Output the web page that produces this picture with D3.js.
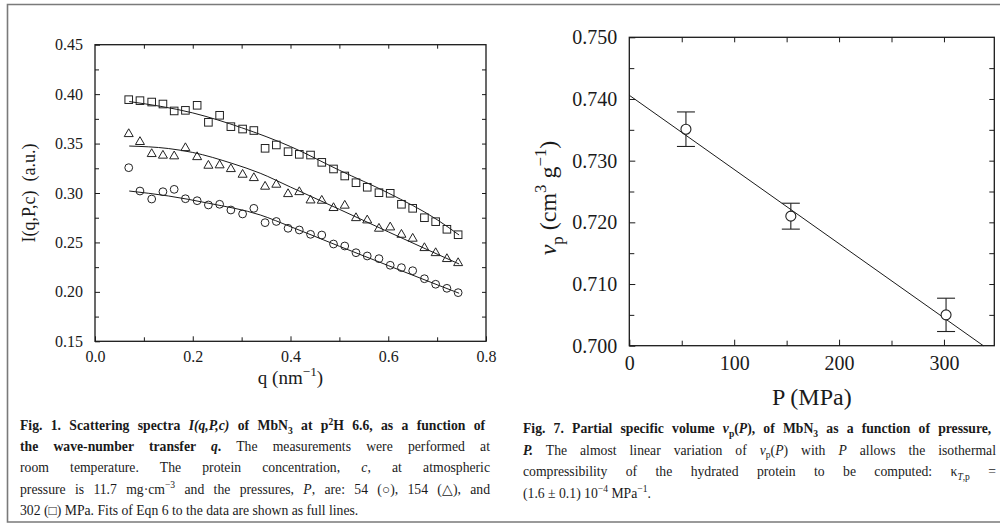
<!DOCTYPE html>
<html><head><meta charset="utf-8">
<script src="https://cdn.jsdelivr.net/npm/d3@7"></script>
<style>
body{margin:0;background:#fff}
svg{display:block}
text{font-family:"Liberation Serif","Times New Roman",serif;fill:#1a1a1a}
</style>
</head><body>
<svg id="c" width="1000" height="527"></svg>
<script>
// ---------- Fig. 1 data ----------
const qValues = [0.069,0.092,0.116,0.139,0.162,0.185,0.209,0.232,0.255,0.278,0.302,0.325,0.348,0.371,0.395,
                 0.418,0.441,0.464,0.488,0.511,0.534,0.557,0.581,0.604,0.627,0.650,0.674,0.697,0.720,0.743];
const I302 = [0.3944,0.3934,0.3920,0.3900,0.3830,0.3836,0.3887,0.3715,0.3786,0.3671,0.3647,0.3632,0.3452,0.3486,0.3418,
              0.3391,0.3384,0.3310,0.3243,0.3172,0.3104,0.3058,0.3003,0.2997,0.2886,0.2845,0.2750,0.2710,0.2633,0.2578];
const I154 = [0.3610,0.3530,0.3408,0.3392,0.3385,0.3468,0.3377,0.3290,0.3294,0.3256,0.3199,0.3165,0.3078,0.3098,0.3003,
              0.3023,0.2939,0.2936,0.2862,0.2886,0.2760,0.2737,0.2653,0.2666,0.2592,0.2552,0.2457,0.2406,0.2346,0.2305];
const I54  = [0.3256,0.3020,0.2939,0.3013,0.3037,0.2942,0.2922,0.2879,0.2886,0.2828,0.2788,0.2845,0.2700,0.2712,0.2643,
              0.2626,0.2582,0.2575,0.2484,0.2464,0.2396,0.2363,0.2336,0.2269,0.2245,0.2214,0.2133,0.2077,0.2036,0.1992];
const fit302Q = [0.07,0.20,0.30,0.40,0.50,0.60,0.70,0.745];
const fit302I = [0.3925,0.381,0.366,0.347,0.323,0.300,0.273,0.2575];
const fit154Q = [0.07,0.15,0.20,0.28,0.338,0.40,0.50,0.60,0.70,0.745];
const fit154I = [0.3475,0.345,0.341,0.330,0.320,0.306,0.2835,0.2607,0.2382,0.2282];
const fit54Q  = [0.07,0.15,0.233,0.338,0.40,0.50,0.60,0.70,0.745];
const fit54I  = [0.302,0.297,0.2896,0.2778,0.266,0.2461,0.2266,0.2072,0.1986];
const qMajorTicks = [0,0.2,0.4,0.6,0.8];
const qMinorTicks = [0.1,0.3,0.5,0.7];
const iMajorTicks = [0.15,0.20,0.25,0.30,0.35,0.40,0.45];
const iMinorTicks = [0.175,0.225,0.275,0.325,0.375,0.425];

// ---------- Fig. 7 data ----------
const pressures = [54,154,302];
const volumes   = [0.7351,0.7210,0.7050];
const volErrors = [0.0028,0.0021,0.0027];
const fitP = [0,337.5];
const fitV = [0.7406,0.700];
const pMajorTicks = [0,100,200,300];
const pMinorTicks = [50,150,250];
const vMajorTicks = [0.700,0.710,0.720,0.730,0.740,0.750];
const vMinorTicks = [0.705,0.715,0.725,0.735,0.745];

const svg = d3.select('#c');
const INK = '#1a1a1a';
const SERIF = '"Liberation Serif","Times New Roman",serif';

// outer frame
svg.append('path').attr('d','M1003,4.5 H7.5 V522 H1003')
  .attr('fill','none').attr('stroke','#7a7a7a').attr('stroke-width',1.6);

function styleAxis(g, size){
  g.select('.domain').remove();
  g.selectAll('line').attr('stroke',INK).attr('stroke-width',1);
  g.selectAll('text').attr('font-family',SERIF).attr('font-size',size).attr('fill',INK);
}

// ========== LEFT CHART ==========
const L = {x0:95,x1:486,y0:44.7,y1:341.3};
const xq = d3.scaleLinear().domain([0,0.8]).range([L.x0,L.x1]);
const yI = d3.scaleLinear().domain([0.15,0.45]).range([L.y1,L.y0]);
const gL = svg.append('g');

gL.append('g').attr('transform',`translate(0,${L.y1})`)
  .call(d3.axisBottom(xq).tickValues(qMajorTicks).tickFormat(d3.format('.1f')).tickSizeInner(-5).tickSizeOuter(0).tickPadding(9.5))
  .call(g=>styleAxis(g,16));
gL.append('g').attr('transform',`translate(0,${L.y1})`)
  .call(d3.axisBottom(xq).tickValues(qMinorTicks).tickFormat('').tickSizeInner(-4).tickSizeOuter(0))
  .call(g=>styleAxis(g,16));
gL.append('g').attr('transform',`translate(0,${L.y0})`)
  .call(d3.axisTop(xq).tickValues(qMinorTicks.concat([0.2,0.4,0.6])).tickFormat('').tickSizeInner(-4).tickSizeOuter(0))
  .call(g=>styleAxis(g,16));
gL.append('g').attr('transform',`translate(${L.x0},0)`)
  .call(d3.axisLeft(yI).tickValues(iMajorTicks).tickFormat(d3.format('.2f')).tickSizeInner(-5).tickSizeOuter(0).tickPadding(12))
  .call(g=>styleAxis(g,16));
gL.append('g').attr('transform',`translate(${L.x0},0)`)
  .call(d3.axisLeft(yI).tickValues(iMinorTicks).tickFormat('').tickSizeInner(-4).tickSizeOuter(0))
  .call(g=>styleAxis(g,16));
gL.append('g').attr('transform',`translate(${L.x1},0)`)
  .call(d3.axisRight(yI).tickValues(iMinorTicks.concat([0.2,0.25,0.3,0.35,0.4])).tickFormat('').tickSizeInner(-4).tickSizeOuter(0))
  .call(g=>styleAxis(g,16));
gL.append('rect').attr('x',L.x0).attr('y',L.y0).attr('width',L.x1-L.x0).attr('height',L.y1-L.y0)
  .attr('fill','none').attr('stroke',INK).attr('stroke-width',1.3);

// fit curves
const lineL = d3.line().x(d=>xq(d[0])).y(d=>yI(d[1])).curve(d3.curveMonotoneX);
[[fit302Q,fit302I],[fit154Q,fit154I],[fit54Q,fit54I]].forEach(([qs,is])=>{
  gL.append('path').datum(qs.map((q,i)=>[q,is[i]])).attr('d',lineL)
    .attr('fill','none').attr('stroke',INK).attr('stroke-width',1);
});
// markers
const mk = gL.append('g').attr('fill','none').attr('stroke','#222').attr('stroke-width',1);
qValues.forEach((q,i)=>{
  const s = 7.6;
  mk.append('rect').attr('x',xq(q)-s/2).attr('y',yI(I302[i])-s/2).attr('width',s).attr('height',s);
  const cx = xq(q), cy = yI(I154[i]), w = 9, h = 7.8;
  mk.append('path').attr('d',`M${cx},${cy-h/2}L${cx+w/2},${cy+h/2}L${cx-w/2},${cy+h/2}Z`);
  mk.append('circle').attr('cx',xq(q)).attr('cy',yI(I54[i])).attr('r',3.9);
});

// rich text helper
function rich(parent, x, y, segs, size){
  const t = parent.append('text').attr('x',x).attr('y',y).attr('font-size',size);
  let cur = 0;
  segs.forEach(s=>{
    const target = s.s==='sub' ? size*0.28 : s.s==='sup' ? -size*0.4 : 0;
    const ts = t.append('tspan').attr('dy',target-cur).text(s.t);
    cur = target;
    if(s.b) ts.attr('font-weight','bold');
    if(s.i) ts.attr('font-style','italic');
    if(s.s) ts.attr('font-size',size*0.7);
  });
  return t;
}
function justify(t, width){
  const n = t.node();
  const len = n.getComputedTextLength();
  const spaces = (n.textContent.match(/ /g)||[]).length;
  if(spaces>0) n.style.wordSpacing = ((width-len)/spaces)+'px';
}

// axis titles left
rich(gL, 0, 0, [{t:'I(q,P,c)\u00a0\u00a0(a.u.)'}], 18)
  .attr('text-anchor','middle').attr('transform',`translate(35,${(L.y0+L.y1)/2}) rotate(-90)`);
rich(gL, (L.x0+L.x1)/2, 384, [{t:'q (nm'},{t:'\u22121',s:'sup'},{t:')'}], 19).attr('text-anchor','middle');

// ========== RIGHT CHART ==========
const R = {x0:629.3,x1:994.3,y0:37.3,y1:345.7};
const xP = d3.scaleLinear().domain([0,348]).range([R.x0,R.x1]);
const yV = d3.scaleLinear().domain([0.700,0.750]).range([R.y1,R.y0]);
const gR = svg.append('g');

gR.append('g').attr('transform',`translate(0,${R.y1})`)
  .call(d3.axisBottom(xP).tickValues(pMajorTicks).tickFormat(d3.format('d')).tickSizeInner(-6).tickSizeOuter(0).tickPadding(10))
  .call(g=>styleAxis(g,20));
gR.append('g').attr('transform',`translate(0,${R.y1})`)
  .call(d3.axisBottom(xP).tickValues(pMinorTicks).tickFormat('').tickSizeInner(-5).tickSizeOuter(0))
  .call(g=>styleAxis(g,20));
gR.append('g').attr('transform',`translate(0,${R.y0})`)
  .call(d3.axisTop(xP).tickValues(pMinorTicks.concat([100,200,300])).tickFormat('').tickSizeInner(-5).tickSizeOuter(0))
  .call(g=>styleAxis(g,20));
gR.append('g').attr('transform',`translate(${R.x0},0)`)
  .call(d3.axisLeft(yV).tickValues(vMajorTicks).tickFormat(d3.format('.3f')).tickSizeInner(-6).tickSizeOuter(0).tickPadding(12))
  .call(g=>styleAxis(g,20));
gR.append('g').attr('transform',`translate(${R.x0},0)`)
  .call(d3.axisLeft(yV).tickValues(vMinorTicks).tickFormat('').tickSizeInner(-5).tickSizeOuter(0))
  .call(g=>styleAxis(g,20));
gR.append('g').attr('transform',`translate(${R.x1},0)`)
  .call(d3.axisRight(yV).tickValues(vMinorTicks.concat([0.71,0.72,0.73,0.74])).tickFormat('').tickSizeInner(-5).tickSizeOuter(0))
  .call(g=>styleAxis(g,20));
gR.append('rect').attr('x',R.x0).attr('y',R.y0).attr('width',R.x1-R.x0).attr('height',R.y1-R.y0)
  .attr('fill','none').attr('stroke',INK).attr('stroke-width',1.3);

gR.append('path').datum(fitP.map((p,i)=>[p,fitV[i]]))
  .attr('d',d3.line().x(d=>xP(d[0])).y(d=>yV(d[1])))
  .attr('fill','none').attr('stroke',INK).attr('stroke-width',1);
const eb = gR.append('g').attr('fill','none').attr('stroke','#222').attr('stroke-width',1.1);
pressures.forEach((p,i)=>{
  const x = xP(p), yt = yV(volumes[i]+volErrors[i]), yb = yV(volumes[i]-volErrors[i]);
  eb.append('line').attr('x1',x).attr('x2',x).attr('y1',yt).attr('y2',yb);
  eb.append('line').attr('x1',x-9).attr('x2',x+9).attr('y1',yt).attr('y2',yt);
  eb.append('line').attr('x1',x-9).attr('x2',x+9).attr('y1',yb).attr('y2',yb);
  eb.append('circle').attr('cx',x).attr('cy',yV(volumes[i])).attr('r',5).attr('fill','#fff');
});

rich(gR, (R.x0+R.x1)/2, 405, [{t:'P (MPa)'}], 24).attr('text-anchor','middle');
rich(gR, 0, 0, [{t:'v',i:1},{t:'p',s:'sub'},{t:' (cm'},{t:'3',s:'sup'},{t:' g'},{t:'\u22121',s:'sup'},{t:')'}], 24)
  .attr('text-anchor','middle').attr('transform','translate(556,198) rotate(-90)');

// ========== CAPTIONS ==========
const CS = 13.7;
const capL = [
  [{t:'Fig. 1.  Scattering spectra ',b:1},{t:'I(q,P,c)',b:1,i:1},{t:' of MbN',b:1},{t:'3',b:1,s:'sub'},{t:' at p',b:1},{t:'2',b:1,s:'sup'},{t:'H 6.6, as a function of',b:1}],
  [{t:'the wave-number transfer ',b:1},{t:'q',b:1,i:1},{t:'.',b:1},{t:' The measurements were performed at'}],
  [{t:'room temperature. The protein concentration, '},{t:'c',i:1},{t:', at atmospheric'}],
  [{t:'pressure is 11.7 mg\u00b7cm'},{t:'\u22123',s:'sup'},{t:' and the pressures, '},{t:'P',i:1},{t:', are: 54 (\u25CB), 154 (\u25B3), and'}],
  [{t:'302 (\u25A1) MPa. Fits of Eqn 6 to the data are shown as full lines.'}]
];
const capR = [
  [{t:'Fig. 7.  Partial specific volume ',b:1},{t:'v',b:1,i:1},{t:'p',b:1,s:'sub'},{t:'(',b:1},{t:'P',b:1,i:1},{t:'), of MbN',b:1},{t:'3',b:1,s:'sub'},{t:' as a function of pressure,',b:1}],
  [{t:'P.',b:1,i:1},{t:' The almost linear variation of '},{t:'v',i:1},{t:'p',s:'sub'},{t:'('},{t:'P',i:1},{t:') with '},{t:'P',i:1},{t:' allows the isothermal'}],
  [{t:'compressibility of the hydrated protein to be computed: \u03BA'},{t:'T',i:1,s:'sub'},{t:',p',s:'sub'},{t:' ='}],
  [{t:'(1.6 \u00b1 0.1) 10'},{t:'\u22124',s:'sup'},{t:' MPa'},{t:'\u22121',s:'sup'},{t:'.'}]
];
const gC = svg.append('g');
capL.forEach((segs,k)=>{
  const t = rich(gC, 20, 430 + k*21.2, segs, CS);
  if(k<capL.length-1) justify(t, 470);
});
capR.forEach((segs,k)=>{
  const t = rich(gC, 523, 433 + k*21.5, segs, CS);
  if(k<capR.length-1) justify(t, 473);
});
</script>
</body></html>
